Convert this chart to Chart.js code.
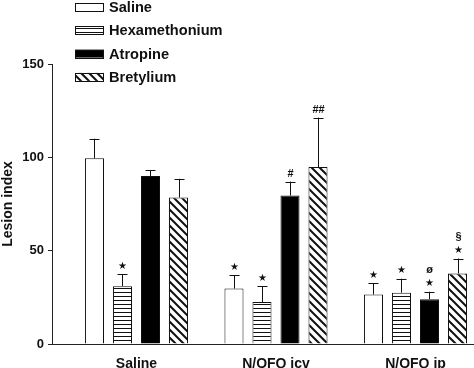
<!DOCTYPE html>
<html>
<head>
<meta charset="utf-8">
<script src="https://cdn.jsdelivr.net/npm/chart.js@4.4.0/dist/chart.umd.min.js"></script>
<style>
  body { margin: 0; background: #fff; }
  #wrap { width: 474px; height: 368px; }
</style>
</head>
<body>
<div id="wrap"><canvas id="lesionChart"></canvas></div>
<script>
const groups = ["Saline", "N/OFQ icv", "N/OFQ ip"];
const treatments = ["Saline", "Hexamethonium", "Atropine", "Bretylium"];

const salineVals = [99.5, 29.7, 26.5];
const hexVals = [31, 22.5, 27.5];
const atropineVals = [90, 79.5, 24];
const bretyliumVals = [78.5, 94.8, 37.8];

const salineErr = [10.5, 7, 6];
const hexErr = [6.5, 8.5, 7.5];
const atropineErr = [3, 7.5, 4];
const bretyliumErr = [10, 26.5, 8];

// significance marks, listed bottom to top
const salineMarks = [[], ["★"], ["★"]];
const hexMarks = [["★"], ["★"], ["★"]];
const atropineMarks = [[], ["#"], ["★", "ø"]];
const bretyliumMarks = [[], ["##"], ["★", "§"]];

const yTicks = [0, 50, 100, 150];

function makePattern(kind) {
  const c = document.createElement("canvas");
  const size = kind === "hlines" ? 4 : 8;
  c.width = size;
  c.height = size;
  const g = c.getContext("2d");
  g.fillStyle = "#fff";
  g.fillRect(0, 0, size, size);
  g.strokeStyle = "#111";
  if (kind === "hlines") {
    g.lineWidth = 1;
    g.beginPath();
    g.moveTo(0, 0.5);
    g.lineTo(size, 0.5);
    g.stroke();
  } else {
    g.lineWidth = 2;
    g.beginPath();
    g.moveTo(-2, -2);
    g.lineTo(size + 2, size + 2);
    g.moveTo(-2, size - 2);
    g.lineTo(2, size + 2);
    g.moveTo(size - 2, -2);
    g.lineTo(size + 2, 2);
    g.stroke();
  }
  return g.createPattern(c, "repeat");
}

const toPoints = (vals) => vals.map((v, i) => ({ x: i, y: v }));

const errorBars = {
  id: "errorBars",
  afterDatasetsDraw(chart) {
    const ctx = chart.ctx;
    const y = chart.scales.y;
    ctx.save();
    chart.data.datasets.forEach((ds, di) => {
      const meta = chart.getDatasetMeta(di);
      meta.data.forEach((bar, i) => {
        const top = y.getPixelForValue(ds.data[i].y + ds.errors[i]);
        const x = Math.round(bar.x) + 0.5;
        ctx.strokeStyle = "#111";
        ctx.lineWidth = 1;
        ctx.beginPath();
        ctx.moveTo(x, bar.y);
        ctx.lineTo(x, top);
        ctx.moveTo(x - 5, Math.round(top) + 0.5);
        ctx.lineTo(x + 5, Math.round(top) + 0.5);
        ctx.stroke();
        ctx.fillStyle = "#111";
        ctx.textAlign = "center";
        ctx.textBaseline = "middle";
        ds.marks[i].forEach((m, k) => {
          ctx.font = m === "★" ? "10px 'DejaVu Sans'" : "bold 11px 'Liberation Sans'";
          ctx.fillText(m, x, top - 8 - k * 14);
        });
      });
    });
    ctx.restore();
  }
};

const boxLegend = {
  id: "boxLegend",
  afterDraw(chart) {
    const ctx = chart.ctx;
    ctx.save();
    chart.data.datasets.forEach((ds, i) => {
      const cy = 7 + i * 23.3;
      ctx.fillStyle = ds.backgroundColor;
      ctx.fillRect(75, cy - 4, 29, 8);
      ctx.strokeStyle = "#111";
      ctx.lineWidth = 1;
      ctx.strokeRect(75.5, Math.round(cy - 4) + 0.5, 28, 8);
      ctx.fillStyle = "#111";
      ctx.font = "bold 14.6px 'Liberation Sans'";
      ctx.textAlign = "left";
      ctx.textBaseline = "middle";
      ctx.fillText(ds.label, 109, cy + 1);
    });
    ctx.restore();
  }
};

const fills = ["#fff", makePattern("hlines"), "#000", makePattern("diag")];
const values = [salineVals, hexVals, atropineVals, bretyliumVals];
const errors = [salineErr, hexErr, atropineErr, bretyliumErr];
const marks = [salineMarks, hexMarks, atropineMarks, bretyliumMarks];

new Chart(document.getElementById("lesionChart"), {
  type: "bar",
  data: {
    datasets: treatments.map((name, i) => ({
      label: name,
      data: toPoints(values[i]),
      errors: errors[i],
      marks: marks[i],
      backgroundColor: fills[i],
      borderColor: "#111",
      borderWidth: 1,
      categoryPercentage: 0.803,
      barPercentage: 0.68
    }))
  },
  options: {
    responsive: true,
    maintainAspectRatio: false,
    animation: false,
    layout: { padding: { top: 64, left: 0, right: 0, bottom: 0 } },
    plugins: { legend: { display: false }, tooltip: { enabled: false } },
    scales: {
      x: {
        type: "linear",
        offset: false,
        bounds: "data",
        min: -0.6057,
        max: 2.4194,
        afterBuildTicks: (scale) => { scale.ticks = groups.map((g, i) => ({ value: i })); },
        afterFit: (scale) => { scale.height = 24; },
        grid: { display: false, offset: false },
        border: { color: "#222", width: 1 },
        ticks: {
          callback: (v) => groups[v],
          color: "#111",
          font: { family: "Liberation Sans", weight: "bold", size: 14 },
          padding: 4,
          maxRotation: 0
        }
      },
      y: {
        min: 0,
        max: 150,
        afterBuildTicks: (scale) => { scale.ticks = yTicks.map((v) => ({ value: v })); },
        afterFit: (scale) => { scale.width = 52; },
        grid: { drawOnChartArea: false, drawTicks: true, tickLength: 4, color: "#222" },
        border: { color: "#222", width: 1 },
        ticks: {
          color: "#111",
          font: { family: "Liberation Sans", weight: "bold", size: 13 },
          padding: 4
        },
        title: {
          display: true,
          text: "Lesion index",
          color: "#111",
          font: { family: "Liberation Sans", weight: "bold", size: 14 },
          padding: 0
        }
      }
    }
  },
  plugins: [errorBars, boxLegend]
});
</script>
</body>
</html>
